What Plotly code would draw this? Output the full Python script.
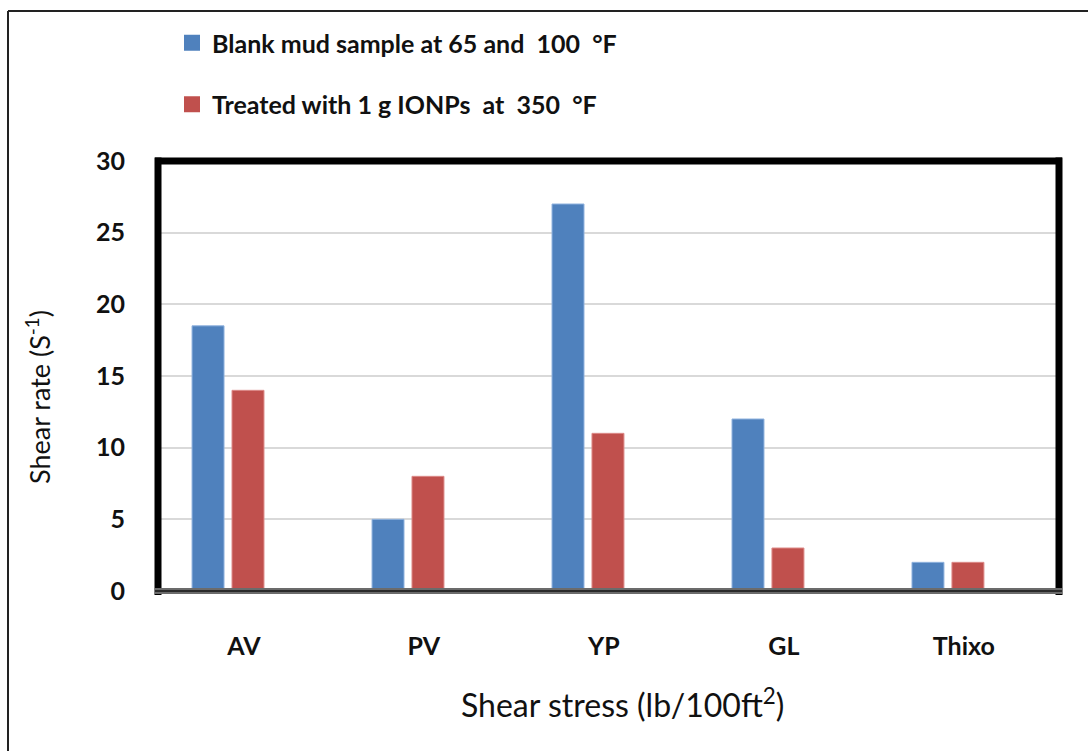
import plotly.graph_objects as go

categories = ["AV", "PV", "YP", "GL", "Thixo"]
blank_values = [18.5, 5, 27, 12, 2]
treated_values = [14, 8, 11, 3, 2]
series_names = ["Blank mud sample at 65 and\u00a0 100\u00a0 \u00b0F",
                "Treated with 1 g IONPs\u00a0 at\u00a0 350\u00a0 \u00b0F"]
y_ticks = [0, 5, 10, 15, 20, 25, 30]

BLUE = "#4F81BD"
RED = "#C0504D"
FONT = "Lato"

W, H = 1088, 751
L, R, T, B = 158, 1059, 161, 591  # plot area in pixels


def px(x):
    return (x - L) / (R - L)


def py(y):
    return (B - y) / (B - T)


xpos = list(range(len(categories)))
fig = go.Figure()
fig.add_trace(go.Bar(x=xpos, y=blank_values, name=series_names[0],
                     marker=dict(color=BLUE, line=dict(color="#8FB2DE", width=1)),
                     showlegend=False))
fig.add_trace(go.Bar(x=xpos, y=treated_values, name=series_names[1],
                     marker=dict(color=RED, line=dict(color="#DD8A88", width=1)),
                     showlegend=False))
# legend entries
for nm, col, grp in [(series_names[0], BLUE, "a"), (series_names[1], RED, "b")]:
    fig.add_trace(go.Scatter(x=[None], y=[None], mode="markers", name=nm,
                             legendgroup=grp,
                             marker=dict(symbol="square", size=16, color=col)))

fig.update_layout(
    width=W, height=H,
    margin=dict(l=L, r=W - R, t=T, b=H - B, autoexpand=False),
    paper_bgcolor="white", plot_bgcolor="white",
    barmode="group", bargap=0.556, bargroupgap=0.2,
    font=dict(family=FONT, color="#1a1a1a"),
    showlegend=True,
    legend=dict(x=px(172), y=py(20), xanchor="left", yanchor="top",
                font=dict(size=25, family=FONT, color="#111", weight="bold"),
                tracegroupgap=26, itemsizing="trace", bgcolor="rgba(0,0,0,0)"),
    xaxis=dict(range=[-0.389, 4.617], showgrid=False, zeroline=False,
               tickvals=[i + 0.088 for i in xpos], ticktext=categories,
               ticks="", ticklabelstandoff=38,
               tickfont=dict(size=25, family=FONT, color="#111", weight="bold"),
               showline=False),
    yaxis=dict(range=[0, 30], tickvals=y_ticks, showgrid=True,
               gridcolor="#D9D9D9", gridwidth=1.5, zeroline=False,
               ticks="", ticklabelstandoff=32,
               tickfont=dict(size=25, family=FONT, color="#111", weight="bold"),
               showline=False),
)

shapes = []
# outer frame lines (left and top)
shapes.append(dict(type="line", xref="paper", yref="paper", x0=px(8), x1=px(8),
                   y0=py(11), y1=py(760), line=dict(color="#222", width=2)))
shapes.append(dict(type="line", xref="paper", yref="paper", x0=px(8), x1=px(1100),
                   y0=py(11), y1=py(11), line=dict(color="#222", width=2)))
# plot border
shapes.append(dict(type="line", xref="paper", yref="paper", x0=0, x1=0,
                   y0=py(595), y1=py(157.5), line=dict(color="black", width=7)))
shapes.append(dict(type="line", xref="paper", yref="paper", x0=px(155), x1=px(1062),
                   y0=1, y1=1, line=dict(color="black", width=7)))
shapes.append(dict(type="line", xref="paper", yref="paper", x0=1, x1=1,
                   y0=py(595), y1=py(157.5), line=dict(color="black", width=7)))
shapes.append(dict(type="line", xref="paper", yref="paper", x0=px(155), x1=px(1062),
                   y0=0, y1=0, line=dict(color="#6b6b6b", width=6)))
shapes.append(dict(type="line", xref="paper", yref="paper", x0=px(155), x1=px(1062),
                   y0=0, y1=0, line=dict(color="#2a2a2a", width=2)))
fig.update_layout(shapes=shapes)

fig.add_annotation(text="Shear rate (S<sup>-1</sup>)", textangle=-90,
                   xref="paper", yref="paper", x=px(38), y=py(397),
                   xanchor="center", yanchor="middle", showarrow=False,
                   font=dict(size=27, family=FONT, color="#111"))
fig.add_annotation(text="Shear stress (lb/100ft<sup>2</sup>)",
                   xref="paper", yref="paper", x=px(622), y=py(703),
                   xanchor="center", yanchor="middle", showarrow=False,
                   font=dict(size=32, family=FONT, color="#111"))

fig.write_html("out.html")
